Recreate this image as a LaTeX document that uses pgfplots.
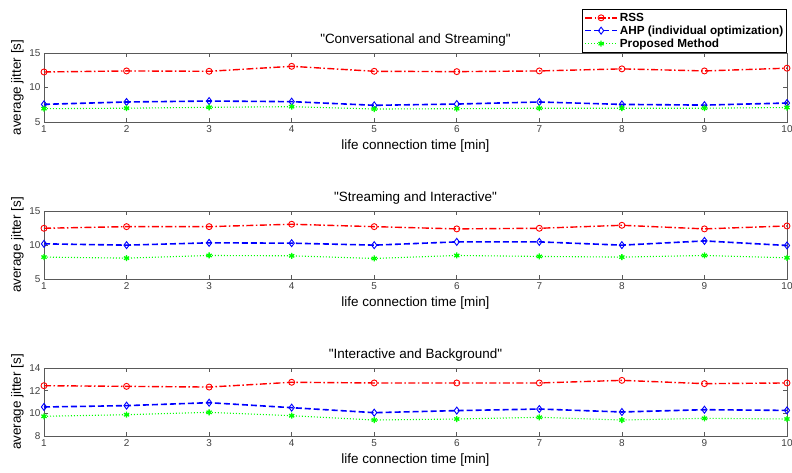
\documentclass[border=0pt]{standalone}
\usepackage{fontspec}
\setmainfont{Liberation Sans}
\usepackage{pgfplots}
\pgfplotsset{compat=1.18}
\definecolor{mred}{rgb}{1,0,0}
\definecolor{mblue}{rgb}{0,0,1}
\definecolor{mgreen}{rgb}{0,1,0}
\begin{document}
\begin{tikzpicture}
\path[use as bounding box] (0bp,0bp) rectangle (792bp,-473bp);
\pgfplotsset{
 jit/.style={
   scale only axis, width=743bp, height=68bp,
   xmin=1,xmax=10, xtick={1,...,10},
   tick align=inside, major tick length=4bp,
   xtick pos=both, ytick pos=both,
   axis line style={black!65, line width=0.7bp},
   tick style={black!65, line width=0.7bp},
   ticklabel style={font=\fontsize{10}{12}\selectfont, text=black!75},
   /pgf/number format/assume math mode=true,
   label style={font=\fontsize{13.5}{15}\selectfont},
   title style={font=\fontsize{13.5}{15}\selectfont, yshift=-3bp},
   xlabel={life connection time [min]},
   ylabel={average jitter [s]},
   xlabel style={yshift=0bp},
   ylabel style={yshift=-1bp},
 },
 rss/.style={mred, line width=1.4bp, dash pattern=on 7bp off 2.5bp on 1.5bp off 2.5bp, mark=o, mark size=3bp, mark options={solid, line width=0.9bp}},
 ahp/.style={mblue, line width=1.6bp, dash pattern=on 6bp off 3bp, mark=diamond, mark size=3.5bp, mark options={solid, line width=0.9bp}},
 prop/.style={mgreen, line width=1.1bp, dash pattern=on 1bp off 2bp, mark=asterisk, mark size=3bp, mark options={solid, line width=1.3bp}},
}
\begin{axis}[jit, at={(44bp,-122bp)}, anchor=south west, height=69bp,
  ymin=5, ymax=15, ytick={5,10,15},
  title={\textquotedbl Conversational and Streaming\textquotedbl},
  legend style={at={(1,1)}, anchor=south east, draw=black, line width=0.7bp,
    font=\bfseries\fontsize{11.8}{13.5}\selectfont, inner sep=1.5bp, row sep=-1bp, yshift=0.5bp},
  legend cell align=left,
  legend image code/.code={\draw[mark repeat=2,mark phase=2] plot coordinates {(0bp,0bp)(16bp,0bp)(32bp,0bp)};},
]
\addplot[rss] coordinates {(1,12.25)(2,12.4)(3,12.35)(4,13.07)(5,12.35)(6,12.3)(7,12.4)(8,12.7)(9,12.4)(10,12.8)};
\addplot[ahp] coordinates {(1,7.56)(2,7.9)(3,8.04)(4,7.95)(5,7.42)(6,7.6)(7,7.9)(8,7.55)(9,7.45)(10,7.75)};
\addplot[prop] coordinates {(1,6.93)(2,7.0)(3,7.13)(4,7.22)(5,6.88)(6,6.93)(7,7.0)(8,7.0)(9,7.0)(10,7.1)};
\legend{RSS, AHP (individual optimization), Proposed Method}
\end{axis}
\begin{axis}[jit, at={(44bp,-279bp)}, anchor=south west,
  ymin=5, ymax=15, ytick={5,10,15},
  title={\textquotedbl Streaming and Interactive\textquotedbl},
]
\addplot[rss] coordinates {(1,12.46)(2,12.7)(3,12.7)(4,13.05)(5,12.7)(6,12.37)(7,12.46)(8,12.9)(9,12.37)(10,12.8)};
\addplot[ahp] coordinates {(1,10.17)(2,9.98)(3,10.32)(4,10.27)(5,9.98)(6,10.46)(7,10.46)(8,9.98)(9,10.6)(10,9.93)};
\addplot[prop] coordinates {(1,8.22)(2,8.07)(3,8.46)(4,8.41)(5,8.02)(6,8.46)(7,8.32)(8,8.22)(9,8.46)(10,8.12)};
\end{axis}
\begin{axis}[jit, at={(44bp,-436bp)}, anchor=south west,
  ymin=8, ymax=14, ytick={8,10,12,14},
  title={\textquotedbl Interactive and Background\textquotedbl},
]
\addplot[rss] coordinates {(1,12.44)(2,12.38)(3,12.32)(4,12.74)(5,12.68)(6,12.68)(7,12.68)(8,12.91)(9,12.62)(10,12.68)};
\addplot[ahp] coordinates {(1,10.56)(2,10.68)(3,10.94)(4,10.5)(5,10.06)(6,10.24)(7,10.38)(8,10.12)(9,10.32)(10,10.26)};
\addplot[prop] coordinates {(1,9.74)(2,9.88)(3,10.09)(4,9.79)(5,9.41)(6,9.5)(7,9.65)(8,9.41)(9,9.56)(10,9.5)};
\end{axis}
\end{tikzpicture}
\end{document}
